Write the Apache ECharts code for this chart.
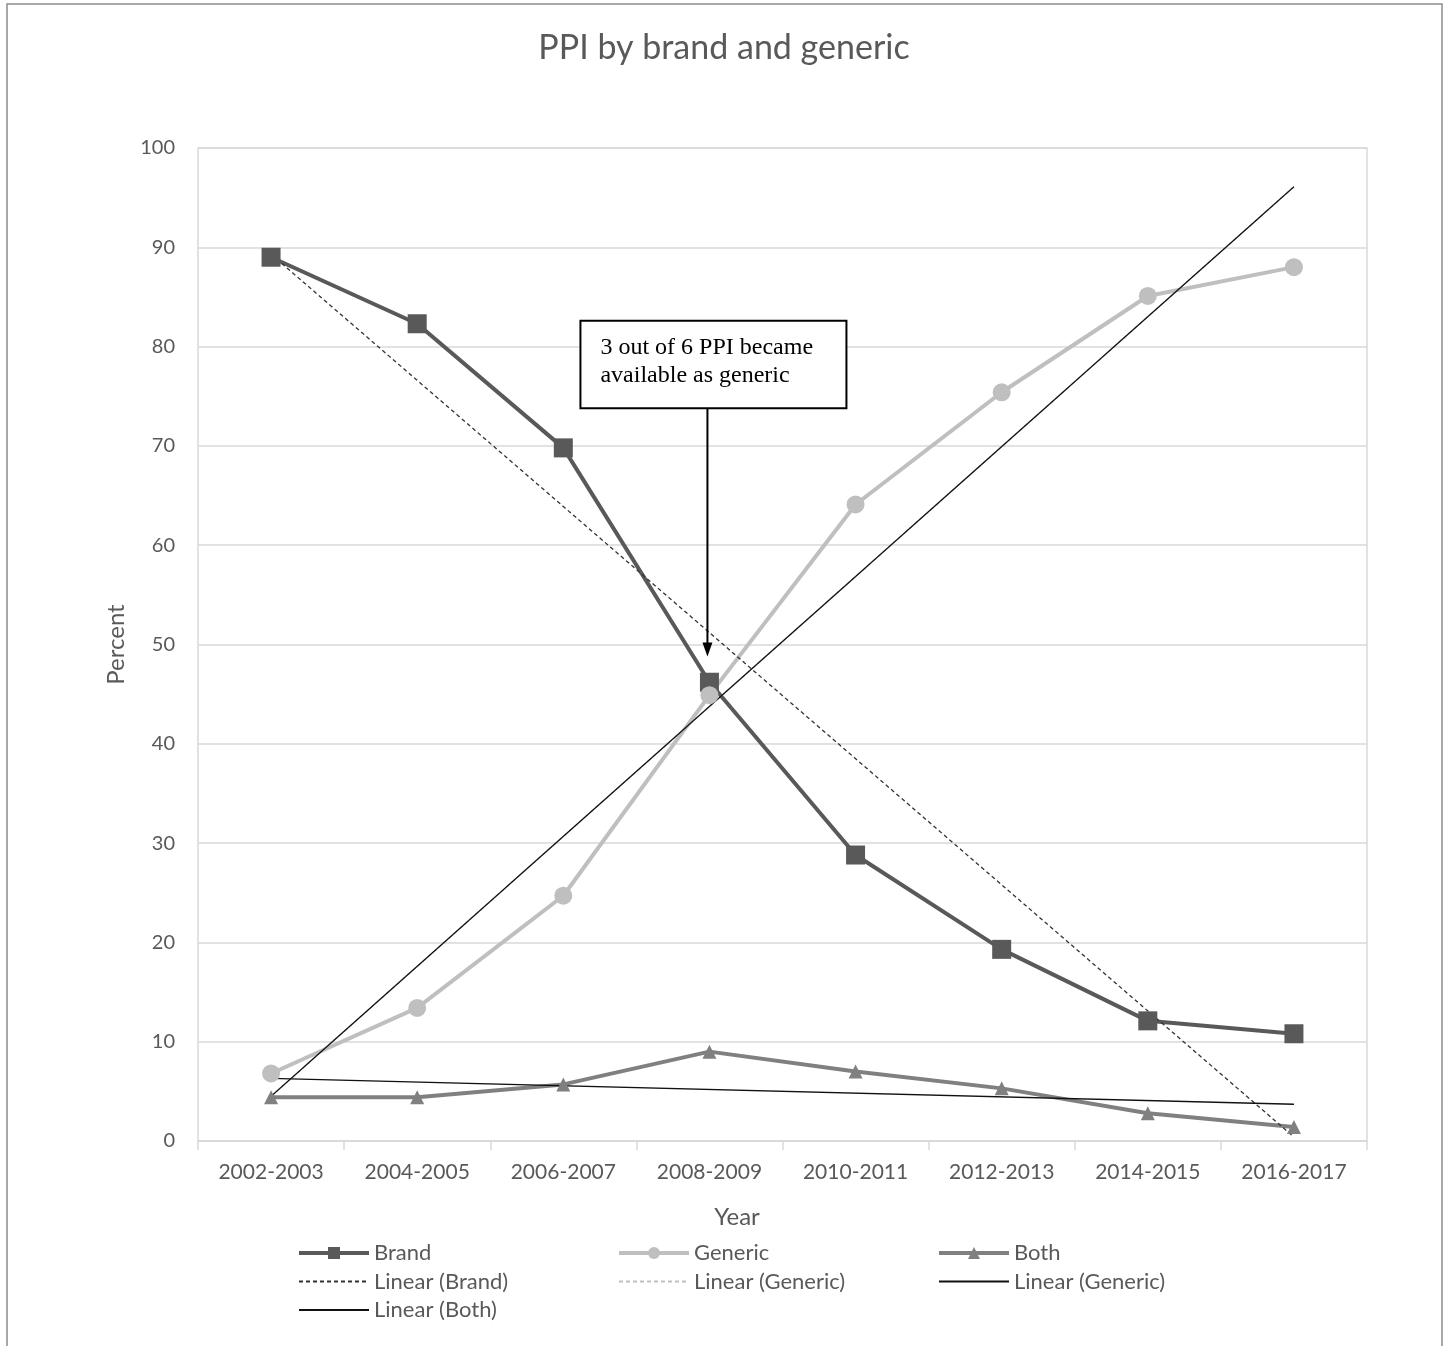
<!DOCTYPE html>
<html>
<head>
<meta charset="utf-8">
<script src="https://cdn.jsdelivr.net/npm/echarts@6/dist/echarts.min.js"></script>
<style>
html,body{margin:0;padding:0;background:#fff;}
#chart{width:1448px;height:1346px;}
</style>
</head>
<body>
<div id="chart"></div>
<script>
// ---- data ----
const categories = ['2002-2003','2004-2005','2006-2007','2008-2009','2010-2011','2012-2013','2014-2015','2016-2017'];
const brand   = [89.0, 82.3, 69.8, 46.2, 28.8, 19.3, 12.1, 10.8];
const generic = [6.8, 13.4, 24.7, 44.9, 64.1, 75.4, 85.1, 88.0];
const both    = [4.4, 4.4, 5.7, 9.0, 7.0, 5.3, 2.8, 1.4];
// trendline end values (first and last category)
const trendBrand   = [89.3, 0.4];
const trendGeneric = [4.5, 96.1];
const trendBoth    = [6.3, 3.7];
const yTicks = [0, 100, 10]; // min, max, interval
const annoText = ['3 out of 6 PPI became', 'available as generic'];
const annoCategory = '2008-2009';
const annoTop = 82.6, annoBottom = 73.8, arrowTip = 48.8;

const FONT = 'Lato';
const TXT = '#595959';

function trend(v){ return [[categories[0], v[0]], [categories[categories.length-1], v[1]]]; }

const chart = echarts.init(document.getElementById('chart'));
const legendText = {color: TXT, fontFamily: FONT, fontSize: 22, lineHeight: 20};
const mainItem = n => ({name:n, lineStyle:{width:4}});
const trendItem = n => ({name:n, itemStyle:{opacity:0}});
function legendCol(left, items){
  return {orient:'vertical', left:left, top:1242, padding:0, itemWidth:70, itemHeight:15, itemGap:6.5,
          textStyle:legendText, data:items, selectedMode:false};
}
chart.setOption({
  animation:false,
  backgroundColor:'#fff',
  title:{text:'PPI by brand and generic', left:'center', top:26,
         textStyle:{color:TXT, fontFamily:FONT, fontSize:34, fontWeight:'normal'}},
  grid:{left:198, right:81, top:148, bottom:205, show:true, borderColor:'#d9d9d9', borderWidth:1.5, containLabel:false},
  xAxis:{type:'category', data:categories, boundaryGap:true,
         name:'Year', nameLocation:'middle', nameGap:64,
         nameTextStyle:{color:TXT, fontFamily:FONT, fontSize:24, padding:[0,91,0,0]},
         axisLine:{lineStyle:{color:'#d9d9d9', width:1.5}},
         axisTick:{show:true, length:9, lineStyle:{color:'#d9d9d9', width:1.5}},
         axisLabel:{color:TXT, fontFamily:FONT, fontSize:21, margin:21}},
  yAxis:{type:'value', min:yTicks[0], max:yTicks[1], interval:yTicks[2],
         name:'Percent', nameLocation:'middle', nameGap:70,
         nameTextStyle:{color:TXT, fontFamily:FONT, fontSize:24},
         axisLine:{show:false}, axisTick:{show:false},
         axisLabel:{color:TXT, fontFamily:FONT, fontSize:20, margin:23},
         splitLine:{lineStyle:{color:'#d9d9d9', width:1.5}}},
  legend:[
    legendCol(297, [mainItem('Brand'), trendItem('Linear (Brand)'), trendItem('Linear (Both)')]),
    legendCol(617, [mainItem('Generic'), trendItem('Linear (Generic)')]),
    legendCol(937, [mainItem('Both'), trendItem('Linear (Generic) ')])
  ],
  series:[
    {name:'Brand', type:'line', data:brand, color:'#595959', symbol:'rect', symbolSize:19,
     lineStyle:{width:4, color:'#595959'}, itemStyle:{color:'#595959'}},
    {name:'Generic', type:'line', data:generic, color:'#bfbfbf', symbol:'circle', symbolSize:18,
     lineStyle:{width:4, color:'#bfbfbf'}, itemStyle:{color:'#bfbfbf'}},
    {name:'Both', type:'line', data:both, color:'#808080', symbol:'triangle', symbolSize:14,
     lineStyle:{width:4, color:'#808080'}, itemStyle:{color:'#808080'}},
    {name:'Linear (Brand)', type:'line', data:trend(trendBrand), symbol:'none', color:'#333',
     lineStyle:{width:1.3, color:'#333', type:[4,3]}},
    {name:'Linear (Generic)', type:'line', data:trend(trendGeneric), symbol:'none', color:'#bfbfbf',
     lineStyle:{width:1.3, color:'#bfbfbf', type:[4,3]}},
    {name:'Linear (Generic) ', type:'line', data:trend(trendGeneric), symbol:'none', color:'#111',
     lineStyle:{width:1.3, color:'#111'}},
    {name:'Linear (Both)', type:'line', data:trend(trendBoth), symbol:'none', color:'#111',
     lineStyle:{width:1.3, color:'#111'}}
  ]
});

// annotation + outer border
const pTop = chart.convertToPixel({gridIndex:0}, [annoCategory, annoTop]);
const pBot = chart.convertToPixel({gridIndex:0}, [annoCategory, annoBottom]);
const pTip = chart.convertToPixel({gridIndex:0}, [annoCategory, arrowTip]);
const ax = pTop[0] - 2;
const boxLeft = ax - 127, boxW = 266;
chart.setOption({
  graphic:[
    {type:'rect', shape:{x:7, y:4, width:1435, height:1400}, style:{fill:'none', stroke:'#8c8c8c', lineWidth:1.5}, z:0, silent:true},
    {type:'rect', shape:{x:boxLeft, y:pTop[1], width:boxW, height:pBot[1]-pTop[1]},
     style:{fill:'#fff', stroke:'#000', lineWidth:2}, z:100},
    {type:'text', left:boxLeft+20, top:pTop[1]+13, z:101,
     style:{text:annoText.join('\n'), fill:'#000', font:'24px "Liberation Serif"', lineHeight:28}},
    {type:'line', shape:{x1:ax, y1:pBot[1], x2:ax, y2:pTip[1]-12}, style:{stroke:'#000', lineWidth:2}, z:100},
    {type:'polygon', shape:{points:[[ax-5, pTip[1]-14],[ax+5, pTip[1]-14],[ax, pTip[1]]]}, style:{fill:'#000'}, z:100}
  ]
});
</script>
</body>
</html>
